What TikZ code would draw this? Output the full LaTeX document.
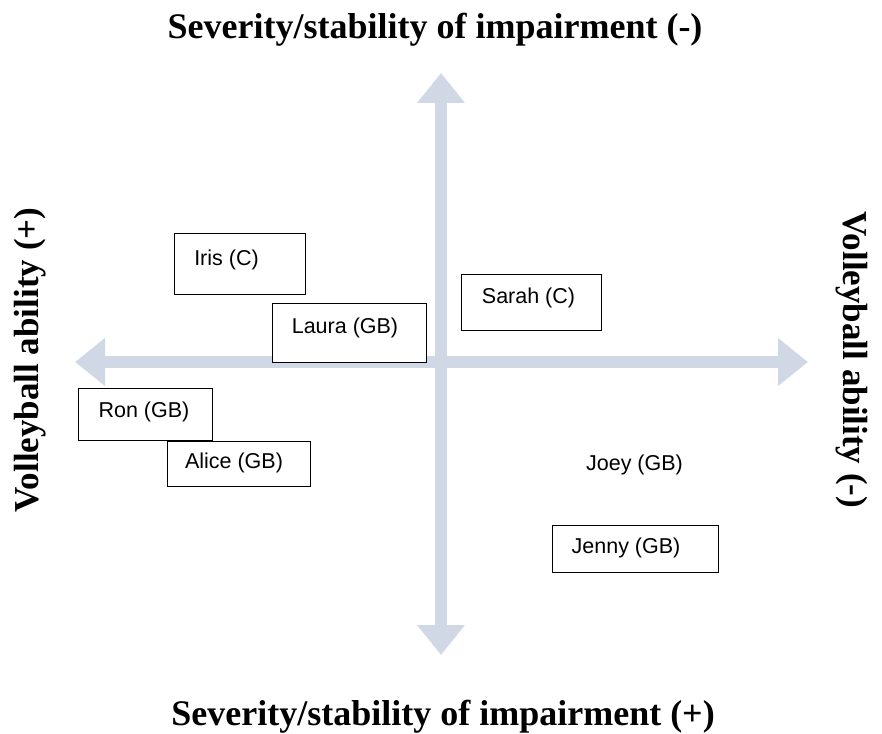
\documentclass[tikz,border=0pt]{standalone}
\usepackage{fontspec}
\setmainfont{Liberation Serif}
\newfontfamily\boxfont{Liberation Sans}
\usetikzlibrary{arrows.meta}
\definecolor{axisblue}{RGB}{208,216,230}
\tikzset{
  axis/.style={draw=axisblue, line width=12pt,
    {Triangle[width=46pt,length=30pt]}-{Triangle[width=46pt,length=30pt]}},
  pbox/.style={draw=black, line width=1.4pt, anchor=north west, inner sep=0pt},
  ptext/.style={font=\boxfont\fontsize{21.5}{25}\selectfont, inner sep=0pt},
  axlabel/.style={font=\bfseries\fontsize{35}{40}\selectfont, inner sep=0pt},
  sevlabel/.style={font=\bfseries\fontsize{36}{40}\selectfont, inner sep=0pt}
}
\begin{document}
\begin{tikzpicture}[x=1pt,y=-1pt]
\useasboundingbox (0,0) rectangle (882,733);

% axes
\coordinate (top) at (441,73);
\coordinate (bottom) at (441,655);
\coordinate (left) at (75,362);
\coordinate (right) at (808,362);
\draw[axis] (bottom) -- (top);
\draw[axis] (left) -- (right);

% axis labels
\node[sevlabel] (ltop) at (435,30) {Severity/stability of impairment (-)};
\node[sevlabel] (lbottom) at (443,717) {Severity/stability of impairment (+)};
\node[axlabel, rotate=90] (lleft) at (30,360) {Volleyball ability (+)};
\node[axlabel, rotate=-90] (lright) at (852,360) {Volleyball ability (-)};

% participant boxes
\node[pbox, minimum width=131, minimum height=61] (iris) at (174,233) {};
\node[ptext] (iristxt) at (226.5,260) {Iris (C)};

\node[pbox, fill=white, minimum width=154, minimum height=59] (laura) at (272,303) {};
\node[ptext] (lauratxt) at (345,328) {Laura (GB)};

\node[pbox, minimum width=140, minimum height=56] (sarah) at (461,274) {};
\node[ptext] (sarahtxt) at (528.5,298) {Sarah (C)};

\node[pbox, fill=white, minimum width=134, minimum height=52] (ron) at (78,388) {};
\node[ptext] (rontxt) at (144,412) {Ron (GB)};

\node[pbox, fill=white, minimum width=143, minimum height=45] (alice) at (167,441) {};
\node[ptext] (alicetxt) at (234,463) {Alice (GB)};

\node[ptext] (joey) at (634.5,465) {Joey (GB)};

\node[pbox, minimum width=166, minimum height=47] (jenny) at (552,525) {};
\node[ptext] (jennytxt) at (626,548) {Jenny (GB)};
\end{tikzpicture}
\end{document}
